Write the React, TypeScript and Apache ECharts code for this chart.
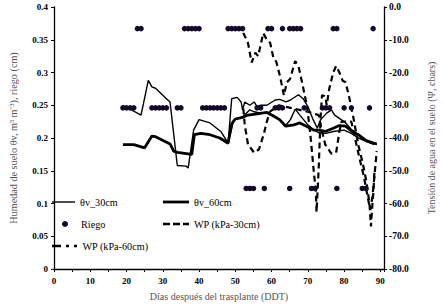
import React, { useEffect, useRef } from 'react';
import * as echarts from 'echarts';

// θv_30cm (thin solid), left axis
const diasTheta30 = [19, 24, 26, 27, 28, 31, 32, 34, 36.5, 37, 38.5, 40, 43, 46, 48, 49, 50.5, 51.6, 52, 52.6, 54, 55.2, 56, 57, 58.7, 61, 62.2, 64, 65.2, 67.4, 68.7, 70, 71.3, 72.6, 73.5, 75.2, 76.5, 77.4, 78.7, 80.4, 82.2, 83.9, 85.7, 88.3, 89];
const theta30 = [0.25, 0.235, 0.288, 0.278, 0.276, 0.26, 0.255, 0.158, 0.157, 0.154, 0.212, 0.228, 0.223, 0.21, 0.192, 0.26, 0.262, 0.255, 0.243, 0.255, 0.25, 0.255, 0.248, 0.25, 0.25, 0.258, 0.259, 0.255, 0.258, 0.266, 0.26, 0.248, 0.23, 0.215, 0.228, 0.238, 0.243, 0.235, 0.23, 0.223, 0.212, 0.205, 0.197, 0.192, 0.19];

// θv_60cm (thick solid), left axis
const diasTheta60 = [19, 22, 25, 27, 28, 32, 33, 34, 38, 38.7, 40.5, 43, 45.7, 48, 49, 50, 51.7, 53.5, 56, 58.7, 60.4, 62.2, 63.9, 66.1, 67.8, 69.6, 71.7, 73, 74.8, 77, 78.7, 80.4, 82.2, 83.9, 86.1, 88.3, 89];
const theta60 = [0.19, 0.19, 0.185, 0.203, 0.202, 0.191, 0.18, 0.178, 0.175, 0.205, 0.207, 0.205, 0.2, 0.192, 0.222, 0.229, 0.231, 0.235, 0.237, 0.239, 0.234, 0.228, 0.218, 0.22, 0.223, 0.218, 0.212, 0.212, 0.21, 0.215, 0.219, 0.218, 0.21, 0.205, 0.196, 0.192, 0.191];

// second thin solid trace visible from day 48
const diasThetaB = [48, 49.6, 52, 54, 55.2, 57, 58.7, 60.4, 62.2, 63.9, 65.2, 66.5, 67.8, 70, 71.7, 73, 75, 77, 80, 82, 84, 86, 88.3];
const thetaB = [0.192, 0.228, 0.232, 0.243, 0.24, 0.238, 0.239, 0.235, 0.228, 0.219, 0.228, 0.244, 0.235, 0.22, 0.212, 0.208, 0.207, 0.21, 0.212, 0.207, 0.2, 0.195, 0.19];

// Riego (irrigation dots), left axis
const riegoDias = [23, 24, 36, 37, 38, 39, 40, 48, 49, 50, 51, 52, 59, 60, 63, 65, 66, 67, 68, 77, 78, 88,
  19, 20, 21, 22, 27, 28, 29, 30, 31, 34, 35, 41, 42, 43, 44, 45, 46, 47, 56, 57, 61, 62, 63, 69, 74, 75, 76, 80, 82, 87,
  53, 54, 55, 58, 65, 71, 72, 78, 85, 86];
const riegoValores = [0.367, 0.367, 0.367, 0.367, 0.367, 0.367, 0.367, 0.367, 0.367, 0.367, 0.367, 0.367, 0.367, 0.367, 0.367, 0.367, 0.367, 0.367, 0.367, 0.367, 0.367, 0.367,
  0.246, 0.246, 0.246, 0.246, 0.246, 0.246, 0.246, 0.246, 0.246, 0.246, 0.246, 0.246, 0.246, 0.246, 0.246, 0.246, 0.246, 0.246, 0.246, 0.246, 0.246, 0.246, 0.246, 0.246, 0.246, 0.246, 0.246, 0.246, 0.246, 0.246,
  0.123, 0.123, 0.123, 0.123, 0.123, 0.123, 0.123, 0.123, 0.123, 0.123];

// WP (kPa-30cm), right axis
const diasWP30 = [52.2, 53.5, 54.5, 55.5, 56.3, 57.7, 58.7, 59.6, 60.5, 61.3, 62.4, 63.4, 64.2, 65.1, 66.5, 67.4, 68.5, 69.8, 70.7, 71.7, 72.2, 72.4, 73, 73.5, 73.9, 74.8, 75.2, 75.9, 77, 77.8, 78.7, 79.6, 80.4, 81.3, 82.6, 83.9, 85.2, 86.1, 87, 87.4, 87.7, 88.1, 88.4];
const wp30 = [-7.9, -11, -17, -14, -15, -8, -10, -10.9, -15.5, -16.7, -21.5, -27, -23, -22, -16.5, -18, -23.5, -30.5, -39, -51, -56, -62.6, -49, -34, -27, -27.2, -30, -25, -20, -18, -20, -22.5, -23, -27, -34, -42, -48, -53, -60, -67, -62, -56, -49.5];

// WP (kPa-60cm), right axis
const diasWP60 = [52.2, 52.6, 53.5, 55.2, 56.5, 57.8, 58.7, 59.5, 62, 66, 70, 73, 73.5, 74.8, 76.5, 77.8, 78.7, 79.3, 82, 84, 85.5, 86.5, 87.2, 87.8, 88.5, 89];
const wp60 = [-31, -36, -42, -44.5, -43.5, -39, -35, -32, -30, -31, -32, -33, -36, -42, -44.8, -44.5, -38, -35, -35, -45, -52, -58, -62, -58, -50, -44];

const xTicks = [0, 10, 20, 30, 40, 50, 60, 70, 80, 90];

const pares = (x: number[], y: number[]) => x.map((d, i) => [d, y[i]]);

const serif = 'Liberation Serif, Times New Roman, serif';

export default function App() {
  const ref = useRef<HTMLDivElement>(null);
  useEffect(() => {
    const chart = echarts.init(ref.current!, null, { renderer: 'svg' });
    const legendText = { fontFamily: serif, fontSize: 10.2, color: '#000' };
    const legendBase = { orient: 'horizontal', padding: 0, itemWidth: 23, itemHeight: 3, textStyle: legendText, selectedMode: false };
    chart.setOption({
      animation: false,
      backgroundColor: '#fff',
      textStyle: { fontFamily: serif },
      grid: { left: 45, right: 51, top: 7, bottom: 33 },
      legend: [
        { ...legendBase, left: 52, top: 197, data: [{ name: 'θv_30cm', icon: 'path://M0,0H23V1.4H0Z' }], itemHeight: 1.4 },
        { ...legendBase, left: 163, top: 197, data: [{ name: 'θv_60cm', icon: 'path://M0,0H26V2.8H0Z' }], itemWidth: 26, itemHeight: 2.8 },
        { ...legendBase, left: 62, top: 219, itemWidth: 6, itemHeight: 6, itemGap: 0, data: [{ name: 'Riego', icon: 'circle' }], textStyle: { ...legendText, padding: [0, 0, 0, 8] } },
        { ...legendBase, left: 163, top: 219, itemWidth: 26, itemHeight: 2.4, data: [{ name: 'WP (kPa-30cm)', icon: 'path://M0,0h7v2.4h-7z M10,0h7v2.4h-7z M20,0h6v2.4h-6z' }] },
        { ...legendBase, left: 52, top: 241, itemWidth: 26, itemHeight: 2.4, data: [{ name: 'WP (kPa-60cm)', icon: 'path://M0,0h9v2.4h-9z M14,0h3v2.4h-3z M22,0h3v2.4h-3z' }] },
      ],
      xAxis: {
        type: 'value', min: 0, max: 91, interval: 5,
        name: 'Días después del trasplante (DDT)', nameLocation: 'middle', nameGap: 22,
        nameTextStyle: { fontFamily: serif, fontSize: 10, color: '#555' },
        axisLine: { lineStyle: { color: '#000', width: 1.3 } },
        axisTick: { lineStyle: { color: '#000' }, length: 3 },
        axisLabel: {
          fontFamily: serif, fontSize: 9, color: '#000', fontWeight: 'bold', margin: 7,
          formatter: (v: number) => (xTicks.includes(v) ? String(v) : ''),
        },
        splitLine: { show: false },
      },
      yAxis: [
        {
          type: 'value', min: 0, max: 0.4, interval: 0.05, position: 'left',
          name: 'Humedad de suelo θv, m³ m⁻³), riego (cm)', nameLocation: 'middle', nameGap: 36,
          nameTextStyle: { fontFamily: serif, fontSize: 10.2, color: '#555' },
          axisLine: { show: true, lineStyle: { color: '#000', width: 1.3 } },
          axisTick: { show: true, lineStyle: { color: '#000' }, length: 3 },
          axisLabel: { fontFamily: serif, fontSize: 9, color: '#000', fontWeight: 'bold', margin: 6, formatter: (v: number) => String(Math.round(v * 100) / 100) },
          splitLine: { show: false },
        },
        {
          type: 'value', min: -80, max: 0, interval: 10, position: 'right',
          name: 'Tensión de agua en el suelo (Ψ, cbars)', nameLocation: 'middle', nameGap: 42,
          nameTextStyle: { fontFamily: serif, fontSize: 10, color: '#555' },
          axisLine: { show: true, lineStyle: { color: '#000', width: 1.3 } },
          axisTick: { show: true, lineStyle: { color: '#000' }, length: 3 },
          axisLabel: { fontFamily: serif, fontSize: 9.5, color: '#000', fontWeight: 'bold', margin: 5, formatter: (v: number) => v.toFixed(1) },
          splitLine: { show: false },
        },
      ],
      series: [
        {
          name: 'Riego', type: 'scatter', yAxisIndex: 0, data: pares(riegoDias, riegoValores),
          symbol: 'circle', symbolSize: 5.5, itemStyle: { color: '#120828', opacity: 1 }, z: 3,
        },
        {
          name: 'θv_30cm', type: 'line', yAxisIndex: 0, data: pares(diasTheta30, theta30),
          symbol: 'none', lineStyle: { color: '#000', width: 1.4 }, itemStyle: { color: '#000' },
        },
        {
          name: 'θv_30cm (b)', type: 'line', yAxisIndex: 0, data: pares(diasThetaB, thetaB),
          symbol: 'none', lineStyle: { color: '#000', width: 1.4 }, itemStyle: { color: '#000' },
        },
        {
          name: 'θv_60cm', type: 'line', yAxisIndex: 0, data: pares(diasTheta60, theta60),
          symbol: 'none', lineStyle: { color: '#000', width: 2.8 }, itemStyle: { color: '#000' },
        },
        {
          name: 'WP (kPa-30cm)', type: 'line', yAxisIndex: 1, data: pares(diasWP30, wp30),
          symbol: 'none', lineStyle: { color: '#000', width: 2.2, type: [6, 4] }, itemStyle: { color: '#000' },
        },
        {
          name: 'WP (kPa-60cm)', type: 'line', yAxisIndex: 1, data: pares(diasWP60, wp60),
          symbol: 'none', lineStyle: { color: '#000', width: 2.2, type: [6, 4] }, itemStyle: { color: '#000' },
        },
      ],
    });
    return () => chart.dispose();
  }, []);
  return <div ref={ref} style={{ position: 'fixed', left: 0, top: 0, width: 444, height: 306 }} />;
}
